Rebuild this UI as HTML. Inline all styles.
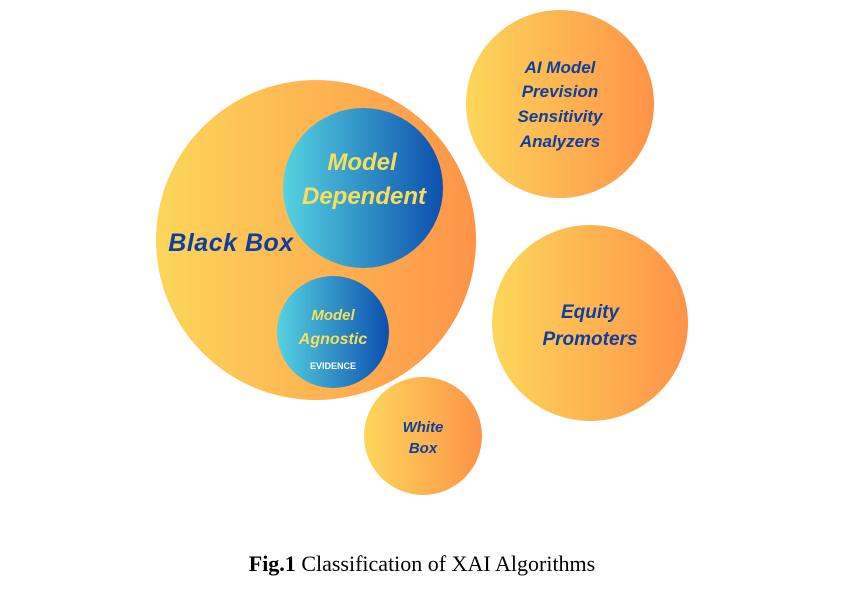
<!DOCTYPE html>
<html><head><style>
html,body{margin:0;padding:0;background:#fff;}
svg{display:block;}
text{font-family:"Liberation Sans",sans-serif;font-weight:bold;font-style:italic;}
</style></head><body>
<svg width="868" height="608" viewBox="0 0 868 608" xmlns="http://www.w3.org/2000/svg">
<defs>
<linearGradient id="o" x1="0" y1="0" x2="1" y2="0">
<stop offset="0" stop-color="#fdd65a"/><stop offset="1" stop-color="#fe9348"/>
</linearGradient>
<linearGradient id="b" x1="0" y1="0" x2="1" y2="0">
<stop offset="0" stop-color="#55d3e0"/><stop offset="1" stop-color="#0d4fae"/>
</linearGradient>
</defs>
<circle cx="316" cy="240" r="160" fill="url(#o)"/>
<circle cx="363" cy="188" r="80" fill="url(#b)"/>
<circle cx="333" cy="332" r="56" fill="url(#b)"/>
<circle cx="560" cy="104" r="94" fill="url(#o)"/>
<circle cx="590" cy="323" r="98" fill="url(#o)"/>
<circle cx="423" cy="436" r="59" fill="url(#o)"/>
<g fill="#0e3f9e" text-anchor="middle">
<text x="231" y="251" font-size="25" letter-spacing="0.5">Black Box</text>
<text x="560" y="73" font-size="17">AI Model</text>
<text x="560" y="97" font-size="17">Prevision</text>
<text x="560" y="122" font-size="17">Sensitivity</text>
<text x="560" y="147" font-size="17">Analyzers</text>
<text x="590" y="318" font-size="19">Equity</text>
<text x="590" y="345" font-size="19">Promoters</text>
<text x="423" y="432" font-size="15">White</text>
<text x="423" y="453" font-size="15">Box</text>
</g>
<g fill="#f7df5c" text-anchor="middle">
<text x="362" y="170" font-size="24">Model</text>
<text x="364" y="204" font-size="24">Dependent</text>
<text x="333" y="320" font-size="15">Model</text>
<text x="333" y="344" font-size="16">Agnostic</text>
</g>
<text x="333" y="369" font-size="9" fill="#fff" text-anchor="middle" style="font-style:normal">EVIDENCE</text>
<text x="422" y="571" font-size="22" fill="#000" text-anchor="middle" style="font-family:'Liberation Serif',serif;font-style:normal;font-weight:normal"><tspan font-weight="bold">Fig.1</tspan> Classification of XAI Algorithms</text>
</svg>
</body></html>
